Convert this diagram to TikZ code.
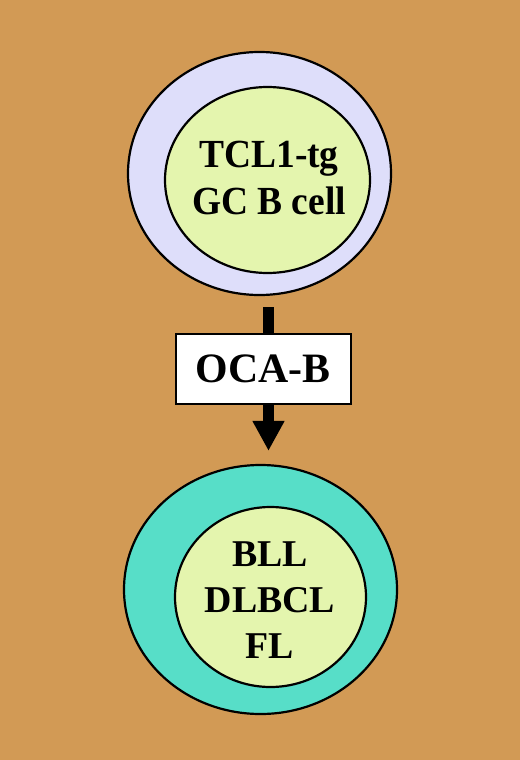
\documentclass[tikz,border=0pt]{standalone}
\usepackage{fontspec}
\setmainfont{Liberation Serif}
\newfontfamily\narrowbold{Liberation Serif Bold}[FakeStretch=0.94]
\usetikzlibrary{shapes.geometric,arrows.meta}
\definecolor{bg}{HTML}{D29A55}
\definecolor{lavender}{HTML}{DEDEFA}
\definecolor{paleg}{HTML}{E4F5AE}
\definecolor{aqua}{HTML}{57DEC8}
\begin{document}
\begin{tikzpicture}[x=1bp,y=-1bp,
  cell/.style={ellipse,draw=black,line width=2.2bp,inner sep=0pt},
  lbl/.style={align=center,inner sep=0pt},
  stem/.style={line width=11bp,draw=black}]
\fill[bg] (0,0) rectangle (520,760);
\useasboundingbox (0,0) rectangle (520,760);
\node[cell,fill=lavender,minimum width=263bp,minimum height=243bp] (topout) at (259.5,173.5) {};
\node[cell,fill=paleg,minimum width=205bp,minimum height=186bp] (topin) at (267.5,180) {};
\node[lbl,font=\fontsize{40}{48}\narrowbold] (toptext) at (269,178) {TCL1-tg\\GC B cell};
\node[cell,fill=aqua,minimum width=273bp,minimum height=249bp] (botout) at (260.5,589.5) {};
\node[cell,fill=paleg,minimum width=191bp,minimum height=180bp] (botin) at (270.5,597) {};
\node[lbl,font=\fontsize{38}{46}\selectfont\bfseries] (bottext) at (270,600) {BLL\\DLBCL\\FL};
\coordinate (s1) at (268.5,307);
\node[draw=black,line width=2bp,fill=white,inner sep=0pt,minimum width=175bp,minimum height=70bp,
  font=\fontsize{42}{50}\selectfont\bfseries] (oca) at (263,369) {OCA-B};
\draw[stem] (s1) -- (oca.north -| s1);
\draw[stem,-{Triangle[width=30bp,length=30bp]},shorten >=13bp] (oca.south -| s1) -- (botout.north -| s1);
\end{tikzpicture}
\end{document}
